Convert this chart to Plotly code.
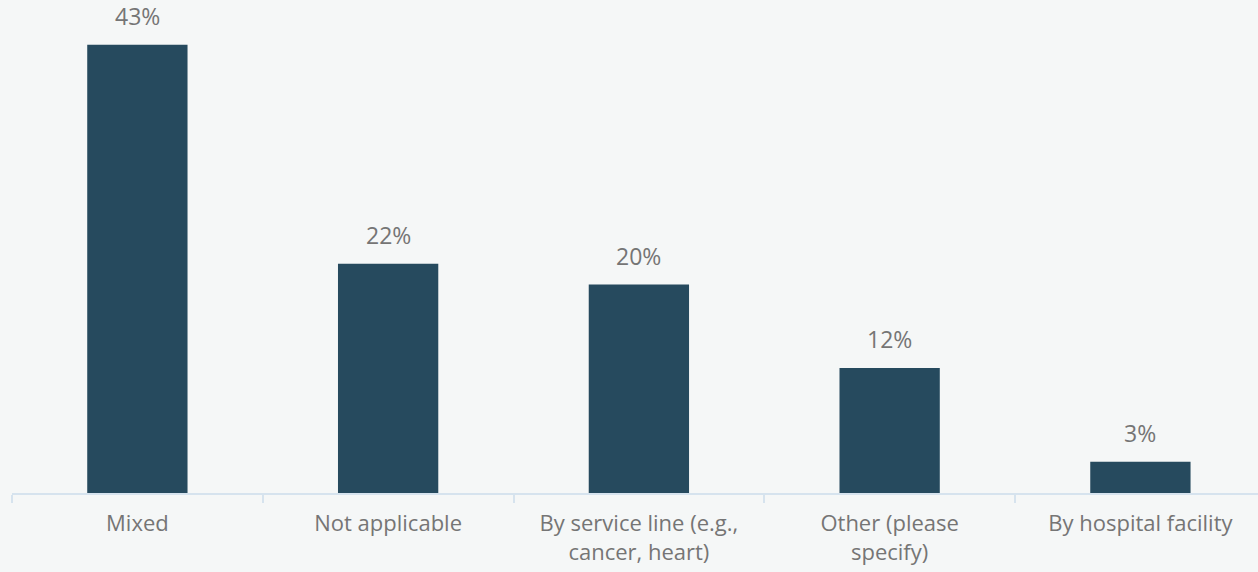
import plotly.graph_objects as go

categories = ["Mixed", "Not applicable", "By service line (e.g.,<br>cancer, heart)",
              "Other (please<br>specify)", "By hospital facility"]
values = [43, 22, 20, 12, 3]
labels = [f"{v}%" for v in values]

BAR = "#264a5e"
BG = "#f5f7f7"
TEXT = "#757575"
AXIS = "#d6e3ee"
FONT = "Open Sans"

fig = go.Figure(
    go.Bar(
        x=categories,
        y=values,
        marker=dict(color=BAR, line=dict(width=0)),
        hoverinfo="skip",
    )
)

# value labels sit a little above each bar
for cat, v, lab in zip(categories, values, labels):
    fig.add_annotation(
        x=cat, y=v, text=lab, showarrow=False,
        yanchor="bottom", yshift=11,
        font=dict(family=FONT, size=23, color=TEXT),
    )

fig.update_layout(
    width=1258,
    height=572,
    margin=dict(l=12, r=0, t=0, b=79),
    paper_bgcolor=BG,
    plot_bgcolor=BG,
    bargap=0.6,
    showlegend=False,
    font=dict(family=FONT, size=22, color=TEXT),
)

fig.update_xaxes(
    type="category",
    range=[-0.5, 4.469],
    showgrid=False,
    showline=True,
    linecolor=AXIS,
    linewidth=2,
    ticks="outside",
    tickson="boundaries",
    ticklen=8,
    tickwidth=2,
    tickcolor=AXIS,
    ticklabelstandoff=10,
    tickfont=dict(family=FONT, size=22, color=TEXT),
)

fig.update_yaxes(
    range=[0, 47.3],
    visible=False,
    showgrid=False,
    zeroline=False,
)

fig.write_html("out.html")
